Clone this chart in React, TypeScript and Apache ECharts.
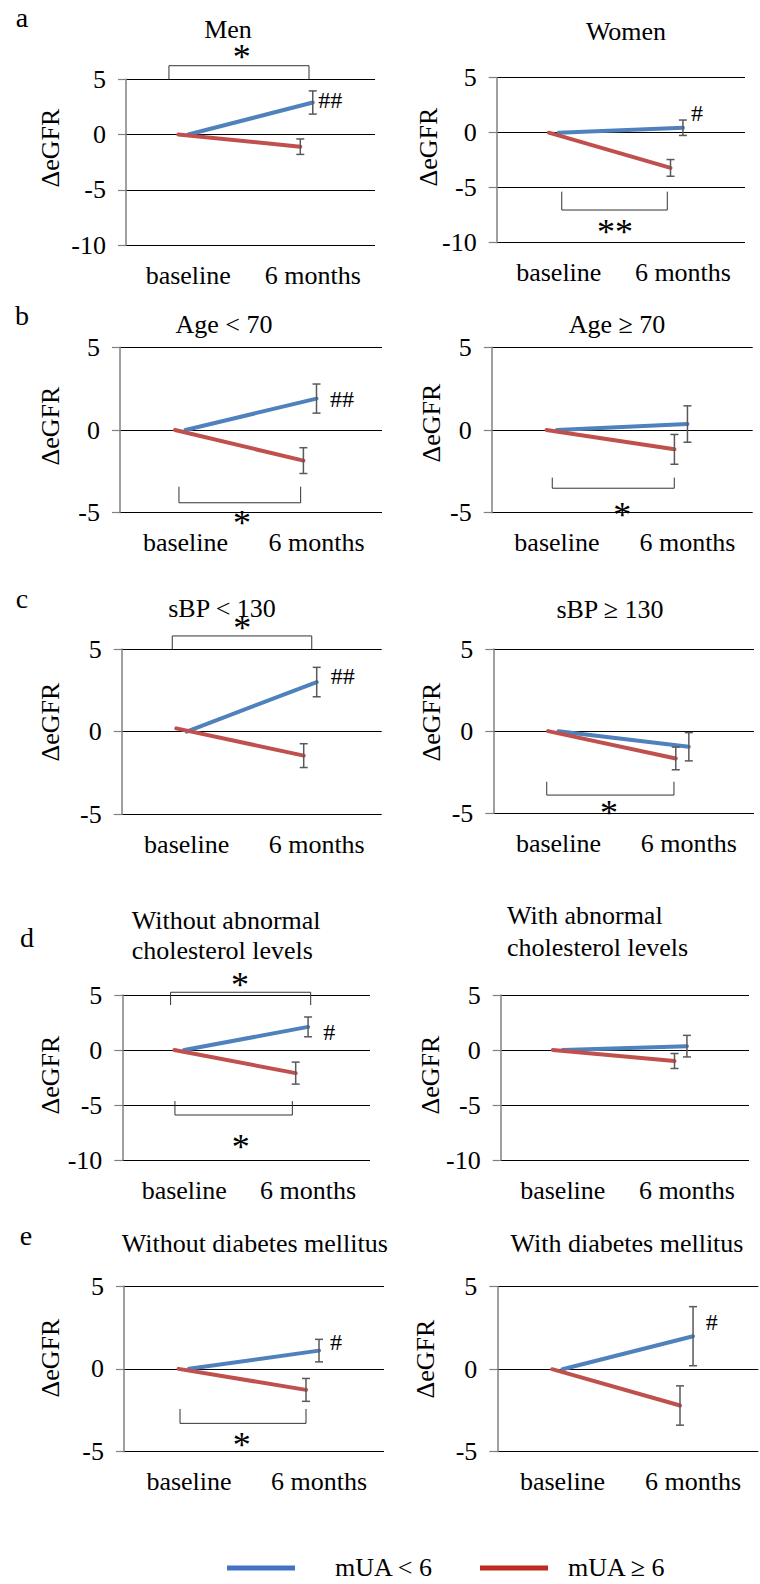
import React, { useEffect, useRef } from 'react';
import * as echarts from 'echarts';

// ---------- data ----------
const categories = ['baseline', '6 months'];
const panelTitles = [
  ['Men'],
  ['Women'],
  ['Age < 70'],
  ['Age ≥ 70'],
  ['sBP < 130'],
  ['sBP ≥ 130'],
  ['Without abnormal', 'cholesterol levels'],
  ['With abnormal', 'cholesterol levels'],
  ['Without diabetes mellitus'],
  ['With diabetes mellitus'],
];
const panelLetters = ['a', 'b', 'c', 'd', 'e'];
const seriesNames = ['mUA < 6', 'mUA ≥ 6'];
// mUA < 6 (blue): baseline, 6 months
const blueValues = [
  [0, 2.9], [0, 0.45], [0, 1.9], [0, 0.36], [0, 3.0],
  [0, -0.95], [0, 2.1], [0, 0.35], [0, 1.1], [0, 2.0],
];
const blueErrors = [1.05, 0.7, 0.88, 1.1, 0.89, 0.86, 0.9, 0.98, 0.68, 1.79];
// mUA >= 6 (red): baseline, 6 months
const redValues = [
  [0, -1.1], [0, -3.2], [0, -1.85], [0, -1.17], [0.2, -1.45],
  [0, -1.66], [0, -2.1], [0, -1.0], [0, -1.27], [0, -2.2],
];
const redErrors = [0.7, 0.76, 0.78, 0.9, 0.72, 0.69, 1.0, 0.68, 0.69, 1.19];
const yMins = [-10, -10, -5, -5, -5, -5, -10, -10, -5, -5];
const yMax = 5;
const yInterval = 5;
const yAxisName = 'ΔeGFR';

// significance annotations (data units of each panel)
const brackets = [
  { panel: 0, x1: 0.345, x2: 1.47, yLeg: 5, yBar: 6.23 },
  { panel: 1, x1: 0.524, x2: 1.374, yLeg: -5.36, yBar: -7.03 },
  { panel: 2, x1: 0.45, x2: 1.379, yLeg: -3.43, yBar: -4.4 },
  { panel: 3, x1: 0.464, x2: 1.399, yLeg: -2.88, yBar: -3.52 },
  { panel: 4, x1: 0.389, x2: 1.462, yLeg: 5, yBar: 5.79 },
  { panel: 5, x1: 0.41, x2: 1.386, yLeg: -3.08, yBar: -3.89 },
  { panel: 6, x1: 0.39, x2: 1.521, yLeg: 4.09, yBar: 5.25 },
  { panel: 6, x1: 0.425, x2: 1.373, yLeg: -4.64, yBar: -5.91 },
  { panel: 8, x1: 0.431, x2: 1.4, yLeg: -2.42, yBar: -3.29 },
];
const marks = [
  { panel: 0, x: 0.93, y: 7.47, text: '*' },
  { panel: 0, x: 1.64, y: 3.1, text: '##' },
  { panel: 1, x: 0.953, y: -8.55, text: '**' },
  { panel: 1, x: 1.613, y: 1.79, text: '#' },
  { panel: 2, x: 0.931, y: -5.34, text: '*' },
  { panel: 2, x: 1.695, y: 1.87, text: '##' },
  { panel: 3, x: 1.0, y: -4.84, text: '*' },
  { panel: 4, x: 0.928, y: 6.55, text: '*' },
  { panel: 4, x: 1.7, y: 3.37, text: '##' },
  { panel: 5, x: 0.888, y: -4.7, text: '*' },
  { panel: 6, x: 0.95, y: 6.36, text: '*' },
  { panel: 6, x: 0.956, y: -8.34, text: '*' },
  { panel: 6, x: 1.671, y: 1.66, text: '#' },
  { panel: 8, x: 0.905, y: -4.29, text: '*' },
  { panel: 8, x: 1.63, y: 1.64, text: '#' },
  { panel: 9, x: 1.643, y: 2.88, text: '#' },
];

// ---------- layout / style ----------
const W = 760;
const H = 1584;
const FONT = 'Liberation Serif, Times New Roman, serif';
const BLUE = '#4f81bd';
const RED = '#c0504d';
const LEG_BLUE = '#4472c4';
const LEG_RED = '#c0281e';
const ERR = '#595959';
const CAT_X = [0.5, 1.5];
const RED_SHIFT = [-0.08, -0.1];

const GRIDS = [
  { left: 126, top: 79.3, width: 249, height: 165.7 },
  { left: 496.7, top: 77.7, width: 248.3, height: 165 },
  { left: 120, top: 347.3, width: 262, height: 165.4 },
  { left: 491.7, top: 347.3, width: 261, height: 165.4 },
  { left: 121.7, top: 649, width: 260, height: 165.3 },
  { left: 493.3, top: 649, width: 260.7, height: 164.3 },
  { left: 122.3, top: 995, width: 247.7, height: 165 },
  { left: 500.7, top: 995, width: 248.3, height: 165 },
  { left: 124, top: 1286, width: 260, height: 165.7 },
  { left: 497.3, top: 1286.7, width: 261, height: 165 },
];
const TITLE_POS = [
  { x: 228, y: 29, align: 'center' },
  { x: 626, y: 31, align: 'center' },
  { x: 224, y: 324, align: 'center' },
  { x: 617, y: 324, align: 'center' },
  { x: 222, y: 608, align: 'center' },
  { x: 610, y: 609, align: 'center' },
  { x: 131.7, y: 920, align: 'left', dy: 30 },
  { x: 507, y: 915, align: 'left', dy: 32 },
  { x: 121.7, y: 1243, align: 'left' },
  { x: 627, y: 1243, align: 'center' },
];
const LETTER_POS = [
  { x: 22, y: 17 }, { x: 22, y: 315 }, { x: 22, y: 598 }, { x: 27, y: 937 }, { x: 26, y: 1235 },
];
const YNAME_POS = [
  { x: 50, y: 148 }, { x: 428, y: 147 },
  { x: 50, y: 426 }, { x: 431, y: 423 },
  { x: 50, y: 722 }, { x: 431, y: 722 },
  { x: 50, y: 1075 }, { x: 430, y: 1075 },
  { x: 50, y: 1358 }, { x: 425, y: 1359 },
];

function errorBarSeries(panel: number, x: number, y: number, e: number) {
  return {
    type: 'custom',
    xAxisIndex: panel,
    yAxisIndex: panel,
    z: 4,
    data: [[x, y, e]],
    renderItem: (params: any, api: any) => {
      const cx = api.value(0);
      const cy = api.value(1);
      const ce = api.value(2);
      const t = api.coord([cx, cy + ce]);
      const b = api.coord([cx, cy - ce]);
      const c = 4;
      const st = { stroke: ERR, lineWidth: 1.5 };
      return {
        type: 'group',
        children: [
          { type: 'line', shape: { x1: t[0], y1: t[1], x2: b[0], y2: b[1] }, style: st },
          { type: 'line', shape: { x1: t[0] - c, y1: t[1], x2: t[0] + c, y2: t[1] }, style: st },
          { type: 'line', shape: { x1: b[0] - c, y1: b[1], x2: b[0] + c, y2: b[1] }, style: st },
        ],
      };
    },
  };
}

export default function App() {
  const ref = useRef<HTMLDivElement>(null);
  useEffect(() => {
    if (!ref.current) return;
    const chart = echarts.init(ref.current, undefined, { renderer: 'svg', width: W, height: H });

    const grid = GRIDS.map((g) => ({ ...g, outerBoundsMode: 'none', containLabel: false }));
    const xAxis = GRIDS.map((_, i) => ({
      type: 'value',
      gridIndex: i,
      min: 0,
      max: 2,
      interval: 0.5,
      axisLine: { show: false },
      axisTick: { show: false },
      splitLine: { show: false },
      axisLabel: {
        margin: 17,
        fontSize: 26,
        fontFamily: FONT,
        color: '#000',
        formatter: (v: number) => {
          if (Math.abs(v - CAT_X[0]) < 1e-6) return categories[0];
          if (Math.abs(v - CAT_X[1]) < 1e-6) return categories[1];
          return '';
        },
      },
    }));
    const yAxis = GRIDS.map((_, i) => ({
      type: 'value',
      gridIndex: i,
      min: yMins[i],
      max: yMax,
      interval: yInterval,
      axisLine: { show: true, lineStyle: { color: '#808080', width: 1.5 } },
      axisTick: { show: true, length: 8, lineStyle: { color: '#808080', width: 1.2 } },
      splitLine: { show: true, lineStyle: { color: '#000', width: 1 } },
      axisLabel: { margin: 20, fontSize: 26, fontFamily: FONT, color: '#000' },
    }));

    const series: any[] = [];
    GRIDS.forEach((_, i) => {
      const bx = CAT_X;
      const rx = [CAT_X[0] + RED_SHIFT[0], CAT_X[1] + RED_SHIFT[1]];
      series.push({
        type: 'line',
        name: seriesNames[0],
        xAxisIndex: i,
        yAxisIndex: i,
        symbol: 'none',
        z: 2,
        lineStyle: { color: BLUE, width: 4, cap: 'round' },
        data: blueValues[i].map((v, k) => [bx[k], v]),
      });
      series.push({
        type: 'line',
        name: seriesNames[1],
        xAxisIndex: i,
        yAxisIndex: i,
        symbol: 'none',
        z: 3,
        lineStyle: { color: RED, width: 4, cap: 'round' },
        data: redValues[i].map((v, k) => [rx[k], v]),
      });
      series.push(errorBarSeries(i, bx[1], blueValues[i][1], blueErrors[i]));
      series.push(errorBarSeries(i, rx[1], redValues[i][1], redErrors[i]));
    });

    chart.setOption({
      animation: false,
      textStyle: { fontFamily: FONT },
      grid,
      xAxis,
      yAxis,
      series,
    });

    const txt = (text: string, x: number, y: number, size: number, align = 'center', extra: any = {}, styleExtra: any = {}) => ({
      type: 'text',
      x,
      y,
      ...extra,
      style: {
        text,
        x: 0,
        y: 0,
        fontSize: size,
        fontFamily: FONT,
        fill: '#000',
        align,
        verticalAlign: 'middle',
        ...styleExtra,
      },
    });

    const g: any[] = [];
    panelTitles.forEach((lines, i) => {
      const p = TITLE_POS[i];
      lines.forEach((l, k) => g.push(txt(l, p.x, p.y + k * (p.dy || 0), 26, p.align)));
    });
    panelLetters.forEach((l, i) => g.push(txt(l, LETTER_POS[i].x, LETTER_POS[i].y, 28)));
    YNAME_POS.forEach((p) => g.push(txt(yAxisName, p.x, p.y, 26, 'center', { rotation: Math.PI / 2 })));

    brackets.forEach((b) => {
      const a = chart.convertToPixel({ gridIndex: b.panel }, [b.x1, b.yLeg]) as number[];
      const c = chart.convertToPixel({ gridIndex: b.panel }, [b.x2, b.yBar]) as number[];
      g.push({
        type: 'polyline',
        shape: { points: [[a[0], a[1]], [a[0], c[1]], [c[0], c[1]], [c[0], a[1]]] },
        style: { stroke: '#333', lineWidth: 1, fill: null },
      });
    });
    marks.forEach((m) => {
      const p = chart.convertToPixel({ gridIndex: m.panel }, [m.x, m.y]) as number[];
      if (m.text.startsWith('*')) g.push(txt(m.text, p[0], p[1] + 5, 36, 'center', {}, { lineHeight: 18 }));
      else g.push(txt(m.text, p[0], p[1], 24));
    });

    // legend
    g.push({ type: 'line', shape: { x1: 227, y1: 1568, x2: 295, y2: 1568 }, style: { stroke: LEG_BLUE, lineWidth: 5 } });
    g.push(txt(seriesNames[0], 335, 1567, 26, 'left'));
    g.push({ type: 'line', shape: { x1: 480, y1: 1568, x2: 548, y2: 1568 }, style: { stroke: LEG_RED, lineWidth: 5 } });
    g.push(txt(seriesNames[1], 568, 1567, 26, 'left'));

    chart.setOption({ graphic: g });

    return () => chart.dispose();
  }, []);
  return (
    <div
      ref={ref}
      style={{ position: 'absolute', left: 0, top: 0, width: W, height: H, background: '#fff' }}
    />
  );
}
